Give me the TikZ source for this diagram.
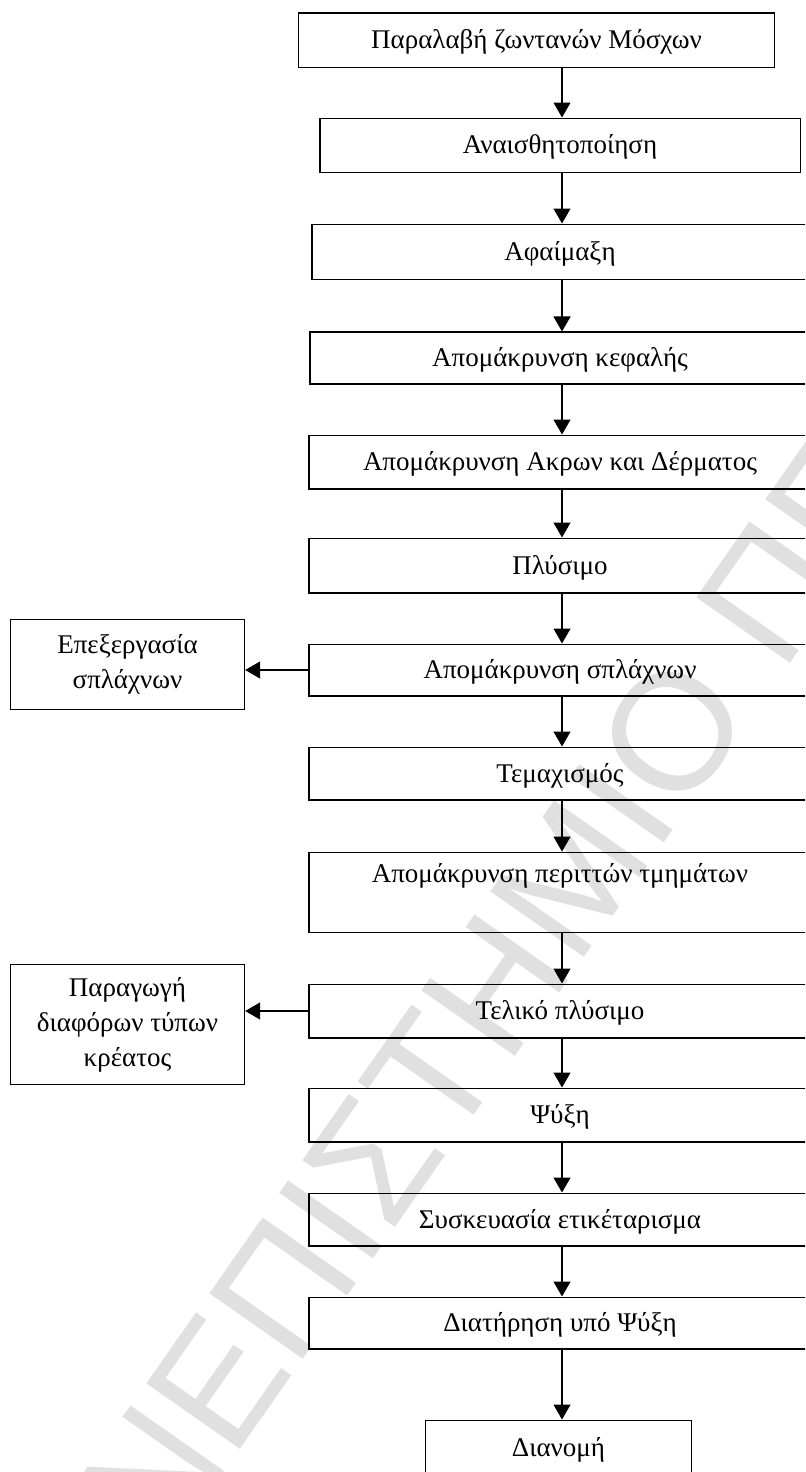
\documentclass[tikz,border=0pt]{standalone}
\usepackage{fontspec}
\setmainfont{Liberation Serif}
\newfontfamily\wmfont{Liberation Sans}
\usetikzlibrary{arrows.meta}
\begin{document}
\begin{tikzpicture}[x=1bp,y=-1bp,
  mainbox/.style={draw, line width=1.2bp, inner sep=0pt,
    text height=19bp, text depth=2bp, font=\fontsize{27bp}{33bp}\selectfont},
  sidebox/.style={draw, line width=1.2bp, inner sep=0pt, align=center,
    font=\fontsize{27bp}{35bp}\selectfont},
  flow/.style={line width=1.2bp, -{Triangle[length=15bp,width=17bp]}},
  watermark/.style={rotate=55, anchor=base west, inner sep=0pt, text=black!12,
    font=\wmfont\fontsize{166bp}{166bp}\selectfont}]
\clip (0,0) rectangle (805,1472);

% background stamp
\node[watermark] (wm) at (31,1748) {ΠΑΝΕΠΙΣΤΗΜΙΟ ΠΕ};

% main process chain
\node[mainbox, minimum width=477, minimum height=55] (b1) at (536.5,40.5) {Παραλαβή ζωντανών Μόσχων};
\node[mainbox, minimum width=482, minimum height=55] (b2) at (560,145.5) {Αναισθητοποίηση};
\node[mainbox, minimum width=498, minimum height=56] (b3) at (560,252) {Αφαίμαξη};
\node[mainbox, minimum width=502, minimum height=52] (b4) at (560,358) {Απομάκρυνση κεφαλής};
\node[mainbox, minimum width=504, minimum height=54] (b5) at (560,462) {Απομάκρυνση Ακρων και Δέρματος};
\node[mainbox, minimum width=504, minimum height=55] (b6) at (560,565.5) {Πλύσιμο};
\node[mainbox, minimum width=504, minimum height=52] (b7) at (560,670) {Απομάκρυνση σπλάχνων};
\node[mainbox, minimum width=504, minimum height=53] (b8) at (560,773.5) {Τεμαχισμός};
\node[mainbox, minimum width=504, minimum height=81, text depth=40bp] (b9) at (560,892.5) {Απομάκρυνση περιττών τμημάτων};
\node[mainbox, minimum width=504, minimum height=54] (b10) at (560,1011) {Τελικό πλύσιμο};
\node[mainbox, minimum width=504, minimum height=54] (b11) at (560,1115) {Ψύξη};
\node[mainbox, minimum width=504, minimum height=53] (b12) at (560,1219.5) {Συσκευασία ετικέταρισμα};
\node[mainbox, minimum width=504, minimum height=52] (b13) at (560,1323) {Διατήρηση υπό Ψύξη};
\node[mainbox, minimum width=267, minimum height=56] (b14) at (558.5,1448) {Διανομή};

% side products
\node[sidebox, minimum width=235, minimum height=91] (s1) at (127.5,664.5) {Επεξεργασία\\σπλάχνων};
\node[sidebox, minimum width=235, minimum height=121] (s2) at (127.5,1024.5) {Παραγωγή\\διαφόρων τύπων\\κρέατος};

% connectors
\coordinate (ax) at (562,0);
\foreach \a/\b in {b1/b2,b2/b3,b3/b4,b4/b5,b5/b6,b6/b7,b7/b8,b8/b9,b9/b10,b10/b11,b11/b12,b12/b13,b13/b14}
  \draw[flow] (\a.south -| ax) -- (\b.north -| ax);
\draw[flow] (b7.west) -- (s1.east |- b7.west);
\draw[flow] (b10.west) -- (s2.east |- b10.west);
\end{tikzpicture}
\end{document}
